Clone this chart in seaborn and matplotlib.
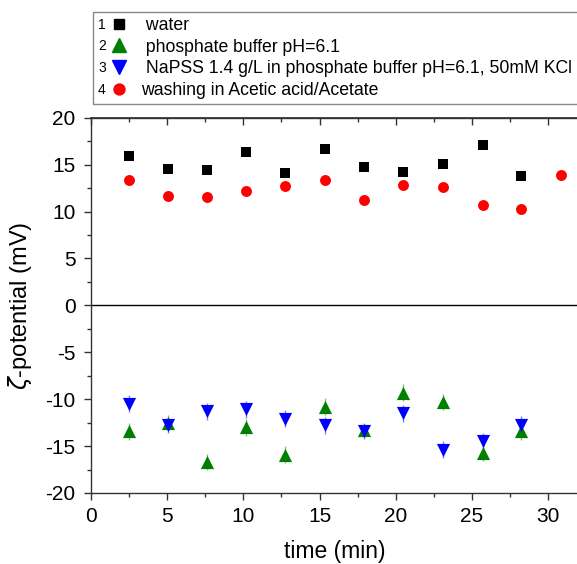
import numpy as np
import pandas as pd
import seaborn as sns
import matplotlib
matplotlib.use("Agg")
import matplotlib.pyplot as plt
from matplotlib.lines import Line2D
from matplotlib.ticker import MultipleLocator

# values
time = [2.5, 5.05, 7.6, 10.2, 12.75, 15.35, 17.9, 20.5, 23.1, 25.7, 28.25, 30.85]

water = [15.9, 14.5, 14.4, 16.3, 14.1, 16.7, 14.7, 14.2, 15.1, 17.1, 13.8]
phosphate = [-13.4, -12.5, -16.7, -13.0, -15.9, -10.8, -13.3, -9.3, -10.3, -15.7, -13.4]
phosphate_err = [0.9, 0.8, 0.9, 0.9, 0.9, 0.9, 0.8, 0.9, 0.9, 0.9, 0.9]
napss = [-10.5, -12.8, -11.3, -11.1, -12.1, -12.8, -13.4, -11.5, -15.4, -14.5, -12.7]
napss_err = [0.9, 0.8, 0.9, 0.9, 0.9, 0.9, 0.8, 0.9, 0.9, 0.9, 0.9]
washing = [13.4, 11.7, 11.5, 12.2, 12.7, 13.4, 11.2, 12.8, 12.6, 10.7, 10.3, 13.9]

labels = [" water",
          " phosphate buffer pH=6.1",
          " NaPSS 1.4 g/L in phosphate buffer pH=6.1, 50mM KCl",
          "washing in Acetic acid/Acetate"]

sns.set_theme(style="ticks")
plt.rcParams['font.family'] = ['Liberation Sans', 'DejaVu Sans']
plt.rcParams['axes.unicode_minus'] = False
plt.rcParams['text.color'] = 'black'
plt.rcParams['axes.labelcolor'] = 'black'
plt.rcParams['xtick.color'] = 'black'
plt.rcParams['ytick.color'] = 'black'

fig = plt.figure(figsize=(5.77, 5.64), dpi=100)
ax = fig.add_axes([0.1577, 0.1259, 0.845, 0.6654])

green = "#008000"
blue = "#0000ff"

ax.errorbar(time[:11], phosphate, yerr=phosphate_err, fmt='none',
            ecolor="#80c080", elinewidth=1, capsize=0, zorder=2)
ax.errorbar(time[:11], napss, yerr=napss_err, fmt='none',
            ecolor="#8080ff", elinewidth=1, capsize=0, zorder=2)

sns.scatterplot(x=time[:11], y=water, marker="s", color="black", s=48,
                linewidth=0, ax=ax, zorder=3, legend=False)
sns.scatterplot(x=time[:11], y=phosphate, marker="^", color=green, s=90,
                linewidth=0, ax=ax, zorder=3, legend=False)
sns.scatterplot(x=time[:11], y=napss, marker="v", color=blue, s=90,
                linewidth=0, ax=ax, zorder=3, legend=False)
sns.scatterplot(x=time, y=washing, marker="o", color="#ff0000", s=62,
                linewidth=0, ax=ax, zorder=3, legend=False)

ax.axhline(0, color="black", lw=1.0, zorder=1)

ax.set_xlim(0, 32)
ax.set_ylim(-20, 20)
ax.xaxis.set_major_locator(MultipleLocator(5))
ax.xaxis.set_minor_locator(MultipleLocator(2.5))
ax.yaxis.set_major_locator(MultipleLocator(5))
ax.yaxis.set_minor_locator(MultipleLocator(2.5))

for side in ["left", "bottom", "top"]:
    ax.spines[side].set_color("#333333")
    ax.spines[side].set_linewidth(1.0)
ax.spines["right"].set_visible(False)

ax.tick_params(which="major", direction="out", length=5, width=1,
               color="#333333", labelsize=15, labelcolor="black")
ax.tick_params(which="minor", direction="out", length=3, width=1, color="#333333")
ax.tick_params(axis="x", which="major", pad=5)
ax.tick_params(axis="y", which="major", pad=6)

top = ax.secondary_xaxis("top")
top.xaxis.set_major_locator(MultipleLocator(5))
top.xaxis.set_minor_locator(MultipleLocator(2.5))
top.tick_params(which="major", direction="in", length=5, width=1, color="#333333",
                labeltop=False)
top.tick_params(which="minor", direction="in", length=3, width=1, color="#333333")
top.spines["top"].set_color("#333333")

ax.set_xlabel("time (min)", fontsize=16.5, labelpad=10)
ax.set_ylabel(r"$\zeta$-potential (mV)", fontsize=17, labelpad=8)

handles = [
    Line2D([], [], ls="none", marker="s", color="black", markersize=6.9),
    Line2D([], [], ls="none", marker="^", color=green, markersize=9.5),
    Line2D([], [], ls="none", marker="v", color=blue, markersize=9.5),
    Line2D([], [], ls="none", marker="o", color="#ff0000", markersize=7.9),
]
leg = fig.legend(handles, labels, loc="upper left",
                 bbox_to_anchor=(0.1606, 0.0, 0.9, 0.9787), mode="expand",
                 fontsize=12.7, frameon=True, fancybox=False, framealpha=1,
                 edgecolor="#888888", borderpad=0.28, labelspacing=0.26,
                 handlelength=2.45, handletextpad=0.0, borderaxespad=0)
leg.get_frame().set_linewidth(1.0)

# numbers in front of the legend markers
fig.canvas.draw()
inv = fig.transFigure.inverted()
for i, txt in enumerate(leg.get_texts()):
    bb = txt.get_window_extent()
    yc = inv.transform((0, (bb.y0 + bb.y1) / 2))[1]
    fig.text(98 / 577, yc + 0.001, str(i + 1), fontsize=10, ha="left",
             va="center", zorder=10)

fig.savefig("out.png", dpi=100)
